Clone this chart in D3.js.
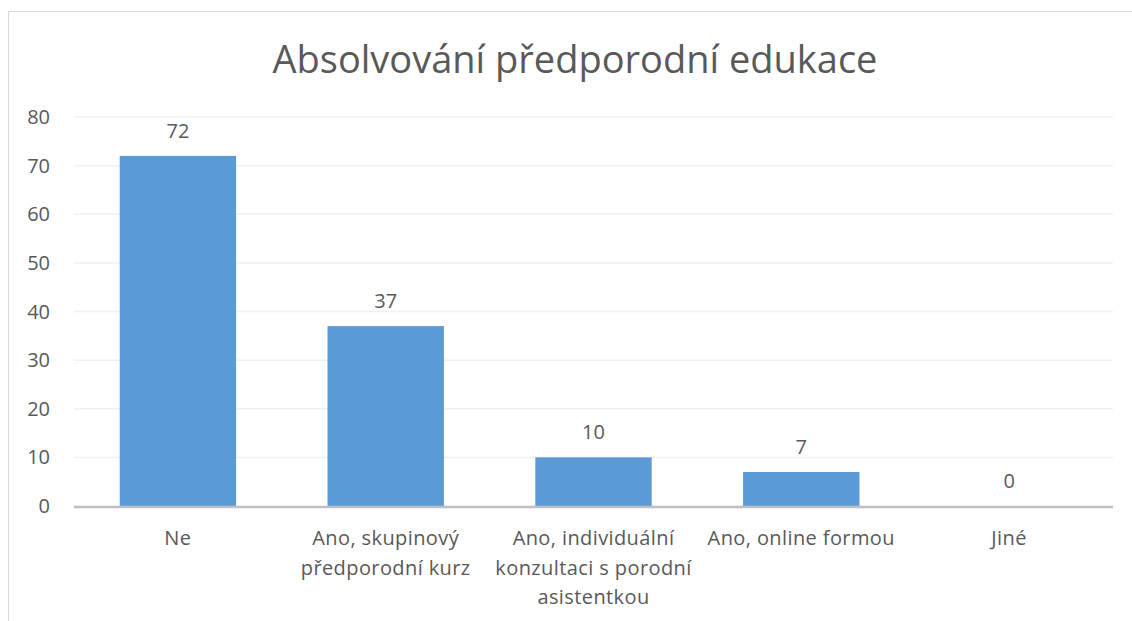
<!DOCTYPE html>
<html>
<head>
<meta charset="utf-8">
<script src="https://cdn.jsdelivr.net/npm/d3@7"></script>
<style>
  body { margin: 0; background: #fff; }
  text { font-family: "Open Sans", sans-serif; fill: #595959; }
</style>
</head>
<body>
<div id="chart"></div>
<script>
var categories = [
    ["Ne"],
    ["Ano, skupinový", "předporodní kurz"],
    ["Ano, individuální", "konzultaci s porodní", "asistentkou"],
    ["Ano, online formou"],
    ["Jiné"]
];
var values = [72, 37, 10, 7, 0];
var yTicks = [0, 10, 20, 30, 40, 50, 60, 70, 80];
var title = "Absolvování předporodní edukace";

function init() {
    var w = 1132;
    var h = 621;
    var margin = { top: 117, left: 74, right: 19, bottom: 115 };

    var svg = d3.select("#chart")
        .append("svg")
        .attr("width", w)
        .attr("height", h);

    // chart frame
    svg.append("rect")
        .attr("x", 8.5)
        .attr("y", 11.5)
        .attr("width", w)
        .attr("height", h)
        .attr("fill", "none")
        .attr("stroke", "#d9d9d9")
        .attr("stroke-width", 1);

    var x = d3.scaleBand()
        .domain(d3.range(values.length))
        .range([margin.left, w - margin.right])
        .paddingInner(0.44)
        .paddingOuter(0.22);

    var y = d3.scaleLinear()
        .domain([0, 80])
        .range([h - margin.bottom, margin.top]);

    // gridlines
    svg.append("g")
        .selectAll("line")
        .data(yTicks.slice(1))
        .enter()
        .append("line")
        .attr("x1", margin.left)
        .attr("x2", w - margin.right)
        .attr("y1", d => y(d))
        .attr("y2", d => y(d))
        .attr("stroke", "#f0f0f0")
        .attr("stroke-width", 1.5);

    // y labels
    svg.append("g")
        .selectAll("text")
        .data(yTicks)
        .enter()
        .append("text")
        .attr("x", 50)
        .attr("y", d => y(d))
        .attr("dy", "0.35em")
        .attr("text-anchor", "end")
        .style("font-size", "20px")
        .text(d => d);

    // bars
    svg.append("g")
        .selectAll("rect")
        .data(values)
        .enter()
        .append("rect")
        .attr("x", (d, i) => x(i))
        .attr("y", d => y(d))
        .attr("width", x.bandwidth())
        .attr("height", d => y(0) - y(d))
        .attr("fill", "#5b9bd5");

    // value labels
    svg.append("g")
        .selectAll("text")
        .data(values)
        .enter()
        .append("text")
        .attr("x", (d, i) => x(i) + x.bandwidth() / 2)
        .attr("y", d => y(d) - 18)
        .attr("text-anchor", "middle")
        .style("font-size", "20px")
        .text(d => d);

    // x axis line
    svg.append("line")
        .attr("x1", margin.left)
        .attr("x2", w - margin.right)
        .attr("y1", y(0) + 1)
        .attr("y2", y(0) + 1)
        .attr("stroke", "#bfbfbf")
        .attr("stroke-width", 2.5);

    // category labels
    var cat = svg.append("g")
        .selectAll("text")
        .data(categories)
        .enter()
        .append("text")
        .attr("text-anchor", "middle")
        .style("font-size", "20px")
        .style("letter-spacing", "0.4px");
    cat.selectAll("tspan")
        .data((d, i) => d.map(s => ({ s: s, i: i })))
        .enter()
        .append("tspan")
        .attr("x", d => x(d.i) + x.bandwidth() / 2)
        .attr("y", (d, j) => 545 + j * 29.5)
        .text(d => d.s);

    // title
    svg.append("text")
        .attr("x", 575)
        .attr("y", 73)
        .attr("text-anchor", "middle")
        .style("font-size", "38px")
        .text(title);
}

window.onload = init;
</script>
</body>
</html>
